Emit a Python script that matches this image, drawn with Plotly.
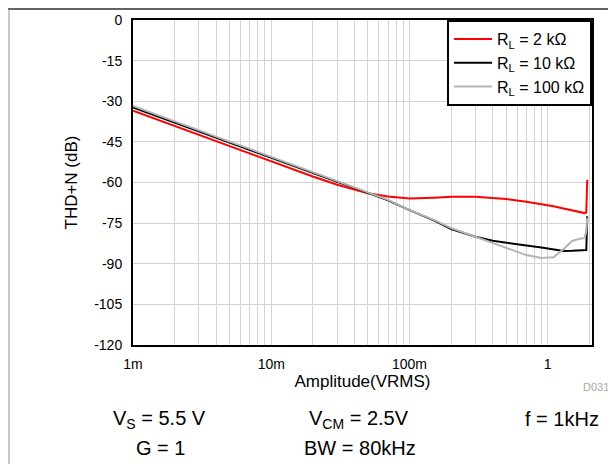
import plotly.graph_objects as go

# amplitude (Vrms)
amp = [0.001, 0.0015, 0.002, 0.003, 0.005, 0.007, 0.01, 0.015, 0.02, 0.03, 0.04, 0.05,
       0.07, 0.1, 0.15, 0.2, 0.3, 0.4, 0.5, 0.7, 0.9, 1.1, 1.3, 1.5, 1.7, 1.85, 1.9, 1.93]

# THD+N (dB) for each load
thd_2k = [-33.5, -36.8, -39.1, -42.4, -46.6, -49.3, -52.3, -55.5, -57.8, -60.8, -62.6, -64.0,
          -65.2, -65.9, -65.6, -65.3, -65.3, -65.6, -66.1, -67.1, -68.0, -68.8, -69.6, -70.3,
          -70.9, -71.3, -71.0, -59.0]
thd_10k = [-32.3, -35.6, -37.9, -41.2, -45.3, -48.0, -50.9, -54.1, -56.4, -59.7, -62.0, -63.8,
           -66.6, -70.2, -74.0, -77.2, -80.0, -81.5, -82.3, -83.3, -84.0, -84.8, -85.3, -85.2,
           -85.0, -84.8, -84.9, -72.5]
thd_100k = [-31.7, -35.1, -37.4, -40.8, -44.9, -47.6, -50.5, -53.8, -56.1, -59.4, -61.8, -63.6,
            -66.4, -70.2, -73.8, -76.8, -80.0, -82.4, -84.2, -86.8, -87.9, -87.6, -84.6, -81.6,
            -80.8, -80.5, -78.0, -73.0]

names = ["R<sub>L</sub> = 2 kΩ", "R<sub>L</sub> = 10 kΩ", "R<sub>L</sub> = 100 kΩ"]
colors = ["#ff0000", "#000000", "#b4b4b4"]

major = [0.001, 0.01, 0.1, 1]
major_txt = ["1m", "10m", "100m", "1"]
minor = [m * d for d in [0.001, 0.01, 0.1, 1] for m in range(2, 10) if m * d <= 2.1]
yticks = [0, -15, -30, -45, -60, -75, -90, -105, -120]
ytick_txt = [str(v) for v in yticks]

# the page body adds 8px, so the plot area is placed 8px up/left of the target
L, T = 125, 12
PW, PH = 459, 325

def px(X):
    return (X - 133) / PW

def py(Y):
    return (345 - Y) / PH

fig = go.Figure()
for y, n, c in zip([thd_2k, thd_10k, thd_100k], names, colors):
    fig.add_trace(go.Scatter(x=amp, y=y, mode="lines", name=n,
                             line=dict(color=c, width=2)))

fig.update_layout(
    width=616, height=464,
    margin=dict(l=L, r=616 - L - PW, t=T, b=464 - T - PH),
    paper_bgcolor="white", plot_bgcolor="white",
    font=dict(family="Arial, Liberation Sans", size=14, color="black"),
    showlegend=True,
    legend=dict(x=1, y=1, xanchor="right", yanchor="top",
                bordercolor="black", borderwidth=2, bgcolor="white",
                font=dict(size=16), tracegroupgap=0, itemwidth=38),
)
fig.update_xaxes(type="log", range=[-3, 0.32], automargin=False,
                 tickvals=major, ticktext=major_txt, ticks="", ticklabelstandoff=5,
                 showgrid=True, gridcolor="#d3d3d3", gridwidth=1,
                 minor=dict(tickvals=minor, showgrid=True, gridcolor="#d3d3d3", gridwidth=1, ticks=""),
                 showline=True, linecolor="black", linewidth=2, mirror=True,
                 title=dict(text="Amplitude(VRMS)", standoff=2),
                 zeroline=False)
fig.update_yaxes(range=[-120, 0], tickvals=yticks, ticktext=ytick_txt, ticks="",
                 ticklabelstandoff=6, automargin=False,
                 showgrid=True, gridcolor="#d3d3d3", gridwidth=1,
                 showline=True, linecolor="black", linewidth=2, mirror=True,
                 title=dict(text="THD+N (dB)", standoff=12),
                 zeroline=False)

notes = [
    ("V<sub>S</sub> = 5.5 V", 159, 419),
    ("V<sub>CM</sub> = 2.5V", 359, 419),
    ("f = 1kHz", 562, 419),
    ("G = 1", 160, 448),
    ("BW = 80kHz", 360, 448),
]
for txt, X, Y in notes:
    fig.add_annotation(text=txt, x=px(X), y=py(Y), xanchor="center", yanchor="middle",
                       xref="paper", yref="paper", showarrow=False,
                       font=dict(size=20, color="black"))
fig.add_annotation(text="D031", x=px(611), y=py(387), xanchor="right", yanchor="middle",
                   xref="paper", yref="paper", showarrow=False,
                   font=dict(size=11, color="#a8a8a8"))

# frame lines of the picture (top and left), kept inside the figure
fig.add_shape(type="line", xref="paper", yref="paper",
              x0=px(8), x1=px(630), y0=py(9), y1=py(9),
              line=dict(color="#303030", width=1.5))
fig.add_shape(type="line", xref="paper", yref="paper",
              x0=px(9), x1=px(9), y0=py(9), y1=py(480),
              line=dict(color="#909090", width=1))

fig.write_html("out.html")
